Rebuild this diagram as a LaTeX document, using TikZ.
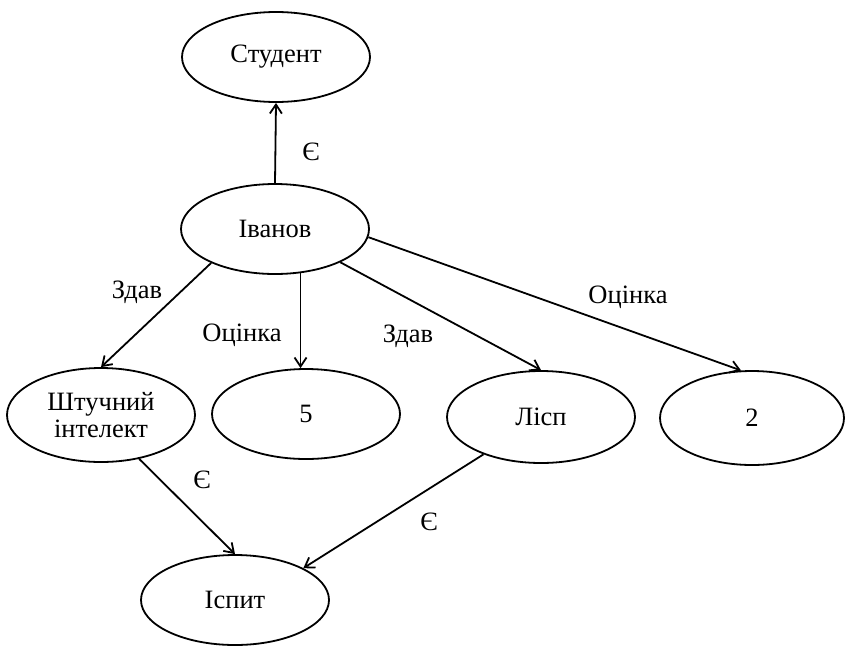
\documentclass[tikz,border=0pt]{standalone}
\usepackage{fontspec}
\setmainfont{Liberation Serif}
\usetikzlibrary{shapes.geometric,arrows.meta}
\begin{document}
\begin{tikzpicture}[x=1pt,y=-1pt,
  concept/.style={ellipse,draw,line width=1.8pt,inner sep=0pt,
    minimum width=188pt,minimum height=90pt,align=center,
    font=\fontsize{26.5}{30}\selectfont},
  rel/.style={font=\fontsize{26.5}{30}\selectfont,inner sep=0pt},
  arr/.style={line width=1.8pt,-{Straight Barb[length=9pt,width=12pt,line width=1.8pt]}}]
\useasboundingbox (0,0) rectangle (845,646);

% concepts
\node[concept] (student) at (276,57)  {Студент};
\node[concept] (ivanov)  at (275,229) {Іванов};
\node[concept,minimum height=94pt] (ai) at (101,415) {Штучний\\[-3pt]інтелект};
\node[concept] (five)    at (306,414) {5};
\node[concept,minimum height=92pt] (lisp) at (541,417) {Лісп};
\node[concept,minimum width=184pt,minimum height=94pt] (two) at (752,418) {2};
\node[concept] (exam)    at (235,600) {Іспит};

% relations
\draw[arr] (ivanov.north) -- (student.south);
\draw[arr] (ivanov.208) -- (ai.north);
\draw[arr] (ivanov.-60) -- (ivanov.-60 |- five.north);
\draw[arr] (ivanov.-27) -- (lisp.north);
\draw[arr] (ivanov.-5) -- (two.103);
\draw[arr] (ai.-49) -- (exam.north);
\draw[arr] (lisp.213) -- (exam.25.5);

% relation labels
\node[rel] (l1) at (311,152) {Є};
\node[rel] (l2) at (137,292) {Здав};
\node[rel] (l3) at (242,335) {Оцінка};
\node[rel] (l4) at (408,336) {Здав};
\node[rel] (l5) at (628,297) {Оцінка};
\node[rel] (l6) at (202,480) {Є};
\node[rel] (l7) at (429,522) {Є};
\end{tikzpicture}
\end{document}
